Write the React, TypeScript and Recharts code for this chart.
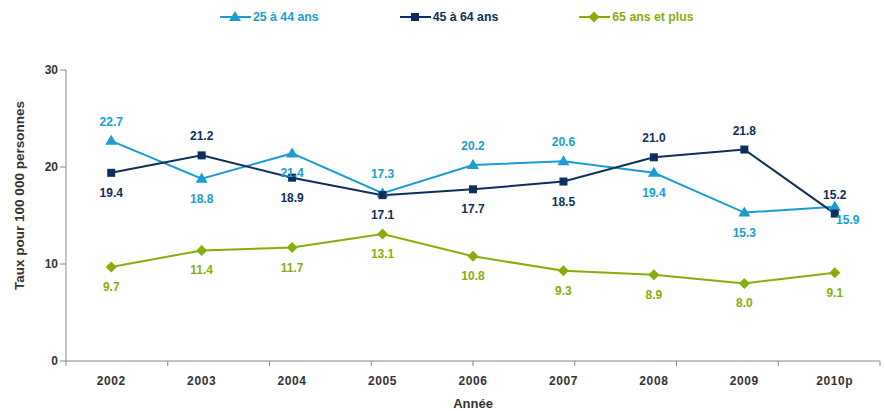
import React from 'react';
import { ComposedChart, Line, XAxis, YAxis, LabelList } from 'recharts';

const years = ['2002', '2003', '2004', '2005', '2006', '2007', '2008', '2009', '2010p'];
const age25to44 = [22.7, 18.8, 21.4, 17.3, 20.2, 20.6, 19.4, 15.3, 15.9];
const age45to64 = [19.4, 21.2, 18.9, 17.1, 17.7, 18.5, 21.0, 21.8, 15.2];
const age65plus = [9.7, 11.4, 11.7, 13.1, 10.8, 9.3, 8.9, 8.0, 9.1];

// where each value label sits relative to its point
const place25to44 = ['up', 'down', 'down', 'up', 'up', 'up', 'down', 'down', 'downRight'];
const place45to64 = ['down', 'up', 'down', 'down', 'down', 'down', 'up', 'up', 'up'];
const place65plus = ['down', 'down', 'down', 'down', 'down', 'down', 'down', 'down', 'down'];

const yTicks = [0, 10, 20, 30];
const edgeTicks = [0, 1, 2, 3, 4, 5, 6, 7, 8, 9];

const C_LIGHT = '#1a9dd3';
const C_DARK = '#0e2f5e';
const C_GREEN = '#86ae0b';
const FONT = '"Liberation Sans", Arial, sans-serif';

const data = years.map((y, i) => ({
  year: y,
  a: age25to44[i],
  b: age45to64[i],
  c: age65plus[i],
}));

const Triangle = ({ cx, cy, fill }: any) => (
  <path d={`M${cx},${cy - 6} L${cx + 6},${cy + 4} L${cx - 6},${cy + 4} Z`} fill={fill} />
);
const Square = ({ cx, cy, fill }: any) => (
  <rect x={cx - 4} y={cy - 4} width={8} height={8} fill={fill} />
);
const Diamond = ({ cx, cy, fill }: any) => (
  <path d={`M${cx},${cy - 5.5} L${cx + 5.5},${cy} L${cx},${cy + 5.5} L${cx - 5.5},${cy} Z`} fill={fill} />
);

const makeLabel = (places: string[], color: string) => (props: any) => {
  const { x, y, value, index } = props;
  const p = places[index];
  let dy = p === 'up' ? -15 : 24;
  let dx = p === 'downRight' ? 13 : 0;
  if (p === 'downRight') dy = 17;
  return (
    <text x={x + dx} y={y + dy} textAnchor="middle" fill={color}
      fontSize={12} fontWeight="bold" fontFamily={FONT}>
      {Number(value).toFixed(1)}
    </text>
  );
};

const legendItems = [
  { name: '25 à 44 ans', color: C_LIGHT, Shape: Triangle },
  { name: '45 à 64 ans', color: C_DARK, Shape: Square },
  { name: '65 ans et plus', color: C_GREEN, Shape: Diamond },
];

const ChartLegend = () => (
  <div style={{ position: 'absolute', top: 10, left: 220, display: 'flex', gap: 81, fontFamily: FONT }}>
    {legendItems.map(({ name, color, Shape }) => (
      <div key={name} style={{ display: 'flex', alignItems: 'center' }}>
        <svg width={33} height={14}>
          <line x1={0} y1={7} x2={31} y2={7} stroke={color} strokeWidth={2} />
          <Shape cx={15} cy={7} fill={color} />
        </svg>
        <span style={{ color, fontSize: 12.3, fontWeight: 'bold' }}>{name}</span>
      </div>
    ))}
  </div>
);

const tickStyle = { fill: '#333', fontSize: 12, fontWeight: 'bold', fontFamily: FONT };

export default function App() {
  return (
    <div style={{ position: 'absolute', left: 0, top: 0, width: 885, height: 411, background: '#fff' }}>
      <ComposedChart width={885} height={411} data={data}
        margin={{ top: 70, right: 5, bottom: 0, left: 0 }}>
        <XAxis xAxisId="a" type="number" domain={[0, 9]} ticks={edgeTicks}
          height={1} tickFormatter={() => ''} stroke="#888" tickSize={5}
          tickLine={{ stroke: '#888' }} allowDataOverflow />
        <XAxis xAxisId="b" dataKey="year" scale="band" axisLine={false} tickLine={false}
          height={49} tick={{ ...tickStyle, letterSpacing: 0.6 }} dy={6}
          label={{ value: 'Année', position: 'insideBottom', offset: 3, fill: '#333',
            fontSize: 13, fontWeight: 'bold', fontFamily: FONT }} />
        <YAxis width={66} domain={[0, 30]} ticks={yTicks} stroke="#888" tickSize={6}
          tick={tickStyle}
          label={{ value: 'Taux pour 100 000 personnes', angle: -90, position: 'insideLeft',
            offset: 19, dy: -20, fill: '#333', fontSize: 13.5, fontWeight: 'bold', fontFamily: FONT,
            style: { textAnchor: 'middle' } }} />
        <Line xAxisId="b" dataKey="a" stroke={C_LIGHT} strokeWidth={2}
          dot={<Triangle fill={C_LIGHT} />} isAnimationActive={false}>
          <LabelList dataKey="a" content={makeLabel(place25to44, C_LIGHT)} />
        </Line>
        <Line xAxisId="b" dataKey="b" stroke={C_DARK} strokeWidth={2}
          dot={<Square fill={C_DARK} />} isAnimationActive={false}>
          <LabelList dataKey="b" content={makeLabel(place45to64, C_DARK)} />
        </Line>
        <Line xAxisId="b" dataKey="c" stroke={C_GREEN} strokeWidth={2}
          dot={<Diamond fill={C_GREEN} />} isAnimationActive={false}>
          <LabelList dataKey="c" content={makeLabel(place65plus, C_GREEN)} />
        </Line>
      </ComposedChart>
      <ChartLegend />
    </div>
  );
}
